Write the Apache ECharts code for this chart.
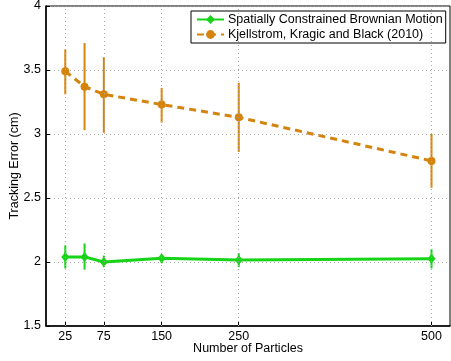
<!DOCTYPE html>
<html>
<head>
<meta charset="utf-8">
<script src="https://cdn.jsdelivr.net/npm/echarts@6/dist/echarts.min.js"></script>
<style>html,body{margin:0;padding:0;background:#fff}#c{width:451px;height:361px}</style>
</head>
<body>
<div id="c"></div>
<script>
const xValues = [25, 50, 75, 150, 250, 500];
const xTicks = [25, 75, 150, 250, 500];
const scbmMean = [2.04, 2.04, 2.00, 2.03, 2.015, 2.025];
const scbmLow  = [1.95, 1.94, 1.96, 1.99, 1.96, 1.95];
const scbmHigh = [2.13, 2.145, 2.05, 2.05, 2.07, 2.10];
const kkbMean = [3.49, 3.37, 3.31, 3.23, 3.13, 2.79];
const kkbLow  = [3.31, 3.03, 3.01, 3.09, 2.86, 2.58];
const kkbHigh = [3.66, 3.71, 3.60, 3.36, 3.40, 3.00];

const GREEN = '#18d418';
const ORANGE = '#d4830c';
const FONT = 'Liberation Sans, Arial, sans-serif';
const GRID = { type: [1, 3], color: '#a8a8a8', width: 1 };

function errSeries(low, high, color) {
  return {
    type: 'custom',
    z: 2,
    silent: true,
    data: xValues.map((x, i) => [x, low[i], high[i]]),
    renderItem: function (params, api) {
      const a = api.coord([api.value(0), api.value(1)]);
      const b = api.coord([api.value(0), api.value(2)]);
      return { type: 'line', shape: { x1: a[0], y1: a[1], x2: b[0], y2: b[1] },
               style: { stroke: color, lineWidth: 2 } };
    }
  };
}

const chart = echarts.init(document.getElementById('c'), null, { renderer: 'canvas' });
chart.setOption({
  animation: false,
  backgroundColor: '#fff',
  textStyle: { fontFamily: FONT },
  grid: { left: 46, right: 1, top: 6, bottom: 35, show: true, borderColor: '#000', borderWidth: 1,
          containLabel: false, outerBoundsMode: 'none' },
  legend: {
    orient: 'vertical', left: 191, top: 11,
    data: ['Spatially Constrained Brownian Motion', 'Kjellstrom, Kragic and Black (2010)'],
    backgroundColor: '#fff', borderColor: '#000', borderWidth: 1,
    padding: [2, 3, 2, 5], itemGap: 2, itemWidth: 27, itemHeight: 11,
    textStyle: { fontSize: 12.5, color: '#000', fontFamily: FONT, padding: [0, 0, 0, -1] }
  },
  xAxis: {
    type: 'value', min: 0, max: 524,
    name: 'Number of Particles', nameLocation: 'middle', nameGap: 16, nameMoveOverlap: false,
    nameTextStyle: { fontSize: 12.5, color: '#000', fontFamily: FONT },
    axisLine: { lineStyle: { color: '#000', width: 1.5 } },
    axisTick: { inside: true, length: 4, customValues: xTicks, lineStyle: { color: '#000' } },
    axisLabel: { customValues: xTicks, fontSize: 12.5, color: '#000', margin: 4, fontFamily: FONT },
    splitLine: { show: false }
  },
  yAxis: {
    type: 'value', min: 1.5, max: 4, interval: 0.5,
    name: 'Tracking Error (cm)', nameLocation: 'middle', nameGap: 25, nameMoveOverlap: false,
    nameTextStyle: { fontSize: 12.5, color: '#000', fontFamily: FONT },
    axisLine: { show: true, lineStyle: { color: '#000', width: 1.5 } },
    axisTick: { show: true, inside: true, length: 4, lineStyle: { color: '#000' } },
    axisLabel: { fontSize: 12.5, color: '#000', margin: 5, fontFamily: FONT },
    splitLine: { show: true, lineStyle: GRID }
  },
  series: [
    {
      type: 'line', data: [], z: 1, silent: true,
      markLine: {
        silent: true, symbol: ['none', 'none'], label: { show: false },
        lineStyle: GRID,
        data: xTicks.map(v => ({ xAxis: v }))
      }
    },
    errSeries(scbmLow, scbmHigh, GREEN),
    errSeries(kkbLow, kkbHigh, ORANGE),
    {
      name: 'Spatially Constrained Brownian Motion', type: 'line', z: 3,
      data: xValues.map((x, i) => [x, scbmMean[i]]),
      symbol: 'diamond', symbolSize: [8, 10],
      itemStyle: { color: GREEN },
      lineStyle: { color: GREEN, width: 3 }
    },
    {
      name: 'Kjellstrom, Kragic and Black (2010)', type: 'line', z: 3,
      data: xValues.map((x, i) => [x, kkbMean[i]]),
      symbol: 'circle', symbolSize: 8,
      itemStyle: { color: ORANGE },
      lineStyle: { color: ORANGE, width: 3, type: [7, 5] }
    }
  ]
});
</script>
</body>
</html>
